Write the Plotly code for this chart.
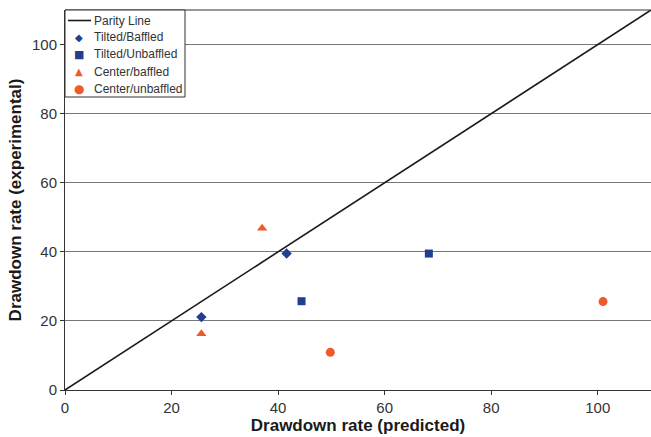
import plotly.graph_objects as go

parity = [0, 110]
tb_x = [25.6, 41.6]
tb_y = [21.1, 39.5]
tu_x = [44.4, 68.3]
tu_y = [25.7, 39.5]
cb_x = [25.6, 37.0]
cb_y = [16.3, 46.8]
cu_x = [49.8, 101.0]
cu_y = [10.9, 25.6]

legend_names = ["Parity Line", "Tilted/Baffled", "Tilted/Unbaffled",
                "Center/baffled", "Center/unbaffled"]

blue = "#243E8E"
orange = "#EE5A2B"

fig = go.Figure()
fig.add_trace(go.Scatter(x=parity, y=parity, mode="lines", name=legend_names[0],
                         line=dict(color="#1a1a1a", width=1.6)))
fig.add_trace(go.Scatter(x=tb_x, y=tb_y, mode="markers", name=legend_names[1],
                         marker=dict(symbol="diamond", size=8, color=blue)))
fig.add_trace(go.Scatter(x=tu_x, y=tu_y, mode="markers", name=legend_names[2],
                         marker=dict(symbol="square", size=8, color=blue)))
fig.add_trace(go.Scatter(x=cb_x, y=cb_y, mode="markers", name=legend_names[3],
                         marker=dict(symbol="triangle-up", size=9, color=orange)))
fig.add_trace(go.Scatter(x=cu_x, y=cu_y, mode="markers", name=legend_names[4],
                         marker=dict(symbol="circle", size=9, color=orange)))

W, H = 651, 437
ML, MR, MT, MB = 65, 0, 10, 47
PW, PH = W - ML - MR, H - MT - MB

def px(xp):
    return (xp - ML) / PW

def py(yp):
    return (H - MB - yp) / PH

fig.update_layout(
    width=W, height=H,
    margin=dict(l=ML, r=MR, t=MT, b=MB),
    plot_bgcolor="white", paper_bgcolor="white",
    font=dict(family="Liberation Sans, Arial, sans-serif", color="#333333"),
    showlegend=False,
)
fig.update_xaxes(range=[0, 110], dtick=20, tick0=0, showgrid=False,
                 showline=True, linecolor="#333333", linewidth=1,
                 ticks="outside", ticklen=4, tickcolor="#333333",
                 tickfont=dict(size=15, color="#333333"), zeroline=False,
                 title=dict(text="<b>Drawdown rate (predicted)</b>",
                            font=dict(size=17, color="#1a1a1a"), standoff=4))
fig.update_yaxes(range=[0, 110], dtick=20, tick0=0, showgrid=True,
                 gridcolor="#777777", gridwidth=1,
                 showline=True, linecolor="#333333", linewidth=1,
                 ticks="outside", ticklen=4, tickcolor="#333333",
                 tickfont=dict(size=15, color="#333333"), zeroline=False,
                 title=dict(text="<b>Drawdown rate (experimental)</b>",
                            font=dict(size=17, color="#1a1a1a"), standoff=6))
# top frame line
fig.add_shape(type="line", xref="paper", yref="paper", x0=0, x1=1, y0=1, y1=1,
              line=dict(color="#333333", width=1))

# legend box
fig.add_shape(type="rect", xref="paper", yref="paper",
              x0=px(65), x1=px(185), y0=py(97), y1=py(10),
              line=dict(color="#333333", width=1), fillcolor="white", layer="above")
row_y = [20.5, 37, 54.3, 71.7, 88.7]
fig.add_shape(type="line", xref="paper", yref="paper",
              x0=px(68), x1=px(91), y0=py(row_y[0]), y1=py(row_y[0]),
              line=dict(color="#1a1a1a", width=1.6), layer="above")
symbols = [("◆", blue, 10), ("■", blue, 11), ("▲", orange, 10), ("●", orange, 12)]
for i, name in enumerate(legend_names):
    fig.add_annotation(xref="paper", yref="paper", x=px(92), y=py(row_y[i]),
                       text=name, showarrow=False, xanchor="left", yanchor="middle",
                       font=dict(size=12, color="#333333"))
for i, (sym, col, sz) in enumerate(symbols):
    fig.add_annotation(xref="paper", yref="paper", x=px(79), y=py(row_y[i + 1]),
                       text=sym, showarrow=False, xanchor="center", yanchor="middle",
                       font=dict(size=sz, color=col, family="DejaVu Sans"))

fig.write_html("out.html")
